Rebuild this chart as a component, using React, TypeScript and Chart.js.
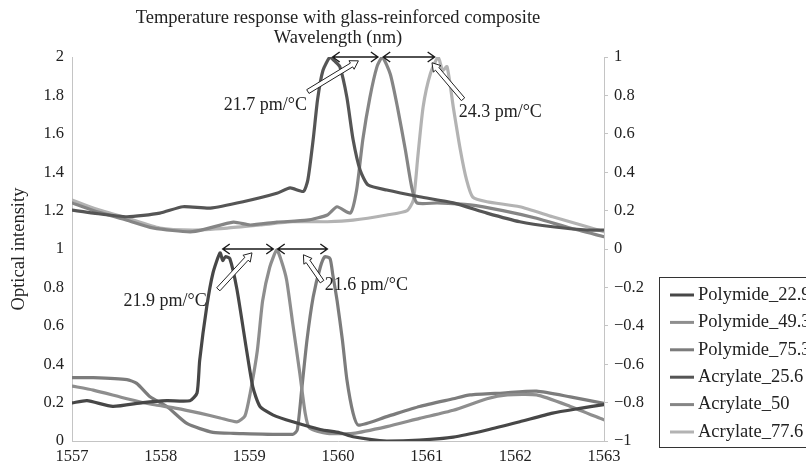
import React, { useEffect, useRef } from 'react';
import { Chart, registerables } from 'chart.js';

Chart.register(...registerables);

const TITLE = 'Temperature response with glass-reinforced composite';
const X_TITLE = 'Wavelength (nm)';
const Y_TITLE = 'Optical intensity';
const FONT = '"Liberation Serif", "DejaVu Serif", serif';

const X_MIN = 1557;
const X_MAX = 1563;
const LEFT_MIN = 0;
const LEFT_MAX = 2;
const RIGHT_MIN = -1;
const RIGHT_MAX = 1;

const SERIES_NAMES = ['Polymide_22.9', 'Polymide_49.3', 'Polymide_75.3', 'Acrylate_25.6', 'Acrylate_50', 'Acrylate_77.6'];
const SERIES_COLORS = ['#474747', '#8e8e8e', '#7c7c7c', '#555555', '#858585', '#b3b3b3'];

// Polymide (left axis)
const p229X = [1557.0, 1557.17, 1557.46, 1557.8, 1558.07, 1558.33, 1558.41, 1558.44, 1558.52, 1558.59, 1558.67, 1558.7, 1558.73, 1558.78, 1558.86, 1558.97, 1559.04, 1559.12, 1559.27, 1559.49, 1559.8, 1560.02, 1560.17, 1560.55, 1560.92, 1561.3, 1561.68, 1562.05, 1562.42, 1562.73, 1563.0];
const p229Y = [0.198, 0.21, 0.18, 0.2, 0.21, 0.21, 0.25, 0.42, 0.7, 0.875, 0.98, 0.94, 0.96, 0.95, 0.79, 0.47, 0.28, 0.18, 0.135, 0.1, 0.06, 0.043, 0.022, 0.0, 0.005, 0.02, 0.057, 0.1, 0.145, 0.17, 0.19];

const p493X = [1557.0, 1557.24, 1557.62, 1557.91, 1558.18, 1558.44, 1558.67, 1558.86, 1558.95, 1559.01, 1559.09, 1559.15, 1559.23, 1559.31, 1559.36, 1559.42, 1559.49, 1559.57, 1559.63, 1559.68, 1559.88, 1560.17, 1560.55, 1560.92, 1561.3, 1561.68, 1561.91, 1562.24, 1562.62, 1563.0];
const p493Y = [0.286, 0.265, 0.22, 0.19, 0.17, 0.145, 0.12, 0.1, 0.13, 0.25, 0.47, 0.73, 0.905, 0.995, 0.94, 0.84, 0.61, 0.35, 0.145, 0.067, 0.04, 0.04, 0.075, 0.118, 0.16, 0.22, 0.24, 0.24, 0.18, 0.11];

const p753X = [1557.0, 1557.24, 1557.62, 1557.73, 1557.88, 1558.07, 1558.3, 1558.59, 1558.82, 1559.49, 1559.54, 1559.59, 1559.65, 1559.72, 1559.8, 1559.85, 1559.91, 1559.94, 1559.99, 1560.05, 1560.1, 1560.17, 1560.23, 1560.55, 1560.92, 1561.3, 1561.49, 1561.86, 1562.24, 1562.62, 1563.0];
const p753Y = [0.33, 0.33, 0.32, 0.3, 0.23, 0.18, 0.09, 0.045, 0.04, 0.035, 0.057, 0.265, 0.525, 0.75, 0.905, 0.96, 0.95, 0.87, 0.73, 0.525, 0.32, 0.145, 0.083, 0.127, 0.18, 0.22, 0.24, 0.25, 0.26, 0.23, 0.196];

// Acrylate (right axis)
const a256X = [1557.0, 1557.24, 1557.62, 1557.99, 1558.25, 1558.56, 1558.93, 1559.31, 1559.46, 1559.61, 1559.66, 1559.72, 1559.77, 1559.83, 1559.91, 1559.96, 1560.02, 1560.1, 1560.17, 1560.25, 1560.34, 1560.55, 1560.92, 1561.3, 1561.68, 1562.05, 1562.42, 1562.81, 1563.0];
const a256Y = [0.203, 0.187, 0.168, 0.187, 0.22, 0.213, 0.246, 0.29, 0.318, 0.3, 0.36, 0.57, 0.78, 0.93, 1.0, 0.98, 0.95, 0.79, 0.57, 0.41, 0.333, 0.307, 0.272, 0.24, 0.187, 0.142, 0.116, 0.099, 0.099];

const a50X = [1557.0, 1557.24, 1557.62, 1557.91, 1558.36, 1558.82, 1559.01, 1559.31, 1559.65, 1559.88, 1559.99, 1560.14, 1560.21, 1560.28, 1560.36, 1560.44, 1560.5, 1560.59, 1560.67, 1560.76, 1560.83, 1560.89, 1561.12, 1561.49, 1561.86, 1562.24, 1562.62, 1563.0];
const a50Y = [0.24, 0.2, 0.15, 0.11, 0.09, 0.14, 0.125, 0.14, 0.15, 0.177, 0.22, 0.187, 0.307, 0.57, 0.79, 0.95, 1.0, 0.91, 0.74, 0.516, 0.325, 0.24, 0.24, 0.23, 0.2, 0.16, 0.109, 0.064];

const a776X = [1557.0, 1557.24, 1557.62, 1557.99, 1558.36, 1558.75, 1559.12, 1559.49, 1559.88, 1560.17, 1560.55, 1560.78, 1560.85, 1560.9, 1560.96, 1561.04, 1561.13, 1561.18, 1561.23, 1561.3, 1561.38, 1561.45, 1561.52, 1561.68, 1562.05, 1562.42, 1562.81, 1563.0];
const a776Y = [0.255, 0.213, 0.161, 0.109, 0.099, 0.109, 0.125, 0.142, 0.142, 0.15, 0.177, 0.2, 0.255, 0.48, 0.74, 0.91, 1.0, 0.93, 0.95, 0.74, 0.516, 0.36, 0.27, 0.246, 0.22, 0.168, 0.116, 0.09];

// Annotations (data units)
const SHIFT_LABELS = ['21.7 pm/°C', '24.3 pm/°C', '21.9 pm/°C', '21.6 pm/°C'];
const LABEL_X = [1559.18, 1561.83, 1558.05, 1560.32];
const LABEL_Y = [1.75, 1.71, 0.73, 0.81];
const SPAN_X1 = [1559.94, 1560.51, 1558.7, 1559.32];
const SPAN_X2 = [1560.45, 1561.09, 1559.27, 1559.88];
const SPAN_Y = [2.0, 2.0, 1.0, 1.0];
const POINTER_TAIL_X = [1559.66, 1561.41, 1558.65, 1559.82];
const POINTER_TAIL_Y = [1.82, 1.78, 0.79, 0.83];
const POINTER_TIP_X = [1560.23, 1561.06, 1559.03, 1559.61];
const POINTER_TIP_Y = [1.98, 1.97, 0.98, 0.97];

const zip = (xs: number[], ys: number[]) => xs.map((x, i) => ({ x, y: ys[i] }));
const fmt = (v: number) => {
  const n = Number(Number(v).toFixed(1));
  return n < 0 ? '\u2212' + String(-n) : String(n);
};

function drawBlockArrow(ctx: CanvasRenderingContext2D, x0: number, y0: number, x1: number, y1: number) {
  const dx = x1 - x0, dy = y1 - y0;
  const len = Math.hypot(dx, dy);
  const ux = dx / len, uy = dy / len;
  const nx = -uy, ny = ux;
  const hw = 2.2, hh = 5, hl = 8;
  const bx = x1 - ux * hl, by = y1 - uy * hl;
  ctx.beginPath();
  ctx.moveTo(x0 + nx * hw, y0 + ny * hw);
  ctx.lineTo(bx + nx * hw, by + ny * hw);
  ctx.lineTo(bx + nx * hh, by + ny * hh);
  ctx.lineTo(x1, y1);
  ctx.lineTo(bx - nx * hh, by - ny * hh);
  ctx.lineTo(bx - nx * hw, by - ny * hw);
  ctx.lineTo(x0 - nx * hw, y0 - ny * hw);
  ctx.closePath();
  ctx.fillStyle = '#ffffff';
  ctx.fill();
  ctx.strokeStyle = '#222';
  ctx.lineWidth = 1;
  ctx.stroke();
}

function drawSpan(ctx: CanvasRenderingContext2D, xa: number, xb: number, y: number) {
  ctx.strokeStyle = '#1a1a1a';
  ctx.lineWidth = 1.4;
  ctx.beginPath();
  ctx.moveTo(xa, y);
  ctx.lineTo(xb, y);
  ctx.moveTo(xa + 7, y - 5);
  ctx.lineTo(xa, y);
  ctx.lineTo(xa + 7, y + 5);
  ctx.moveTo(xb - 7, y - 5);
  ctx.lineTo(xb, y);
  ctx.lineTo(xb - 7, y + 5);
  ctx.stroke();
}

const decorPlugin = {
  id: 'decor',
  afterDraw(chart: any) {
    const ctx: CanvasRenderingContext2D = chart.ctx;
    const xs = chart.scales.x;
    const yl = chart.scales.yL;
    const area = chart.chartArea;
    ctx.save();
    // titles
    ctx.fillStyle = '#222';
    ctx.font = `18.5px ${FONT}`;
    ctx.textAlign = 'center';
    ctx.textBaseline = 'middle';
    const cx = (area.left + area.right) / 2;
    ctx.fillText(TITLE, cx, 18);
    ctx.fillText(X_TITLE, cx, 38);
    // y title
    ctx.save();
    ctx.translate(19, (area.top + area.bottom) / 2);
    ctx.rotate(-Math.PI / 2);
    ctx.fillText(Y_TITLE, 0, 0);
    ctx.restore();

    // span arrows
    for (let i = 0; i < SPAN_X1.length; i++) {
      drawSpan(ctx, xs.getPixelForValue(SPAN_X1[i]), xs.getPixelForValue(SPAN_X2[i]), yl.getPixelForValue(SPAN_Y[i]));
    }
    // pointer arrows
    for (let i = 0; i < POINTER_TAIL_X.length; i++) {
      drawBlockArrow(
        ctx,
        xs.getPixelForValue(POINTER_TAIL_X[i]), yl.getPixelForValue(POINTER_TAIL_Y[i]),
        xs.getPixelForValue(POINTER_TIP_X[i]), yl.getPixelForValue(POINTER_TIP_Y[i])
      );
    }
    // labels
    ctx.fillStyle = '#222';
    ctx.font = `18px ${FONT}`;
    ctx.textAlign = 'center';
    ctx.textBaseline = 'middle';
    for (let i = 0; i < SHIFT_LABELS.length; i++) {
      ctx.fillText(SHIFT_LABELS[i], xs.getPixelForValue(LABEL_X[i]), yl.getPixelForValue(LABEL_Y[i]));
    }

    // legend
    const lx = 659, ly = 277, lw = 160, lh = 170;
    ctx.fillStyle = '#ffffff';
    ctx.fillRect(lx, ly, lw, lh);
    ctx.strokeStyle = '#333';
    ctx.lineWidth = 1;
    ctx.strokeRect(lx + 0.5, ly + 0.5, lw, lh);
    ctx.textAlign = 'left';
    ctx.font = `18.5px ${FONT}`;
    for (let i = 0; i < SERIES_NAMES.length; i++) {
      const y = 295 + i * 27.4;
      ctx.strokeStyle = SERIES_COLORS[i];
      ctx.lineWidth = 3;
      ctx.beginPath();
      ctx.moveTo(670, y);
      ctx.lineTo(694, y);
      ctx.stroke();
      ctx.fillStyle = '#222';
      ctx.fillText(SERIES_NAMES[i], 698, y);
    }
    ctx.restore();
  },
};

export default function App() {
  const ref = useRef<HTMLCanvasElement>(null);
  useEffect(() => {
    if (!ref.current) return;
    const tickFont = { family: FONT, size: 16.5 };
    const chart = new Chart(ref.current, {
      type: 'line',
      data: {
        datasets: [
          { label: SERIES_NAMES[0], data: zip(p229X, p229Y), borderColor: SERIES_COLORS[0], yAxisID: 'yL' },
          { label: SERIES_NAMES[1], data: zip(p493X, p493Y), borderColor: SERIES_COLORS[1], yAxisID: 'yL' },
          { label: SERIES_NAMES[2], data: zip(p753X, p753Y), borderColor: SERIES_COLORS[2], yAxisID: 'yL' },
          { label: SERIES_NAMES[3], data: zip(a256X, a256Y), borderColor: SERIES_COLORS[3], yAxisID: 'yR' },
          { label: SERIES_NAMES[4], data: zip(a50X, a50Y), borderColor: SERIES_COLORS[4], yAxisID: 'yR' },
          { label: SERIES_NAMES[5], data: zip(a776X, a776Y), borderColor: SERIES_COLORS[5], yAxisID: 'yR' },
        ],
      },
      options: {
        responsive: false,
        animation: false,
        devicePixelRatio: 1,
        layout: { padding: { top: 57, right: 152, left: 0, bottom: 0 } },
        elements: { point: { radius: 0 }, line: { borderWidth: 3.2, tension: 0.2, borderJoinStyle: 'round', borderCapStyle: 'round' } },
        plugins: { legend: { display: false }, title: { display: false }, tooltip: { enabled: false } },
        scales: {
          x: {
            type: 'linear',
            min: X_MIN,
            max: X_MAX,
            ticks: { stepSize: 1, font: tickFont, color: '#222', padding: 6, maxRotation: 0, callback: (v: any) => String(v) },
            grid: { display: false, drawTicks: false },
            border: { display: true, color: '#c4c4c4' },
            afterFit: (s: any) => { s.height = 26; },
          },
          yL: {
            type: 'linear',
            position: 'left',
            min: LEFT_MIN,
            max: LEFT_MAX,
            ticks: { stepSize: 0.2, font: tickFont, color: '#222', padding: 8, callback: (v: any) => fmt(v) },
            grid: { display: false, drawTicks: false },
            border: { display: true, color: '#c4c4c4' },
            afterFit: (s: any) => { s.width = 72; },
          },
          yR: {
            type: 'linear',
            position: 'right',
            min: RIGHT_MIN,
            max: RIGHT_MAX,
            ticks: { stepSize: 0.2, font: tickFont, color: '#222', padding: 6, callback: (v: any) => fmt(v) },
            grid: { display: true, drawOnChartArea: false, drawTicks: true, tickLength: 4, color: '#c4c4c4' },
            border: { display: true, color: '#c4c4c4' },
            afterFit: (s: any) => { s.width = 50; },
          },
        },
      },
      plugins: [decorPlugin],
    } as any);
    return () => chart.destroy();
  }, []);
  return (
    <div style={{ position: 'fixed', left: 0, top: 0, width: 806, height: 467, background: '#fff' }}>
      <canvas ref={ref} width={806} height={467} style={{ display: 'block' }} />
    </div>
  );
}
